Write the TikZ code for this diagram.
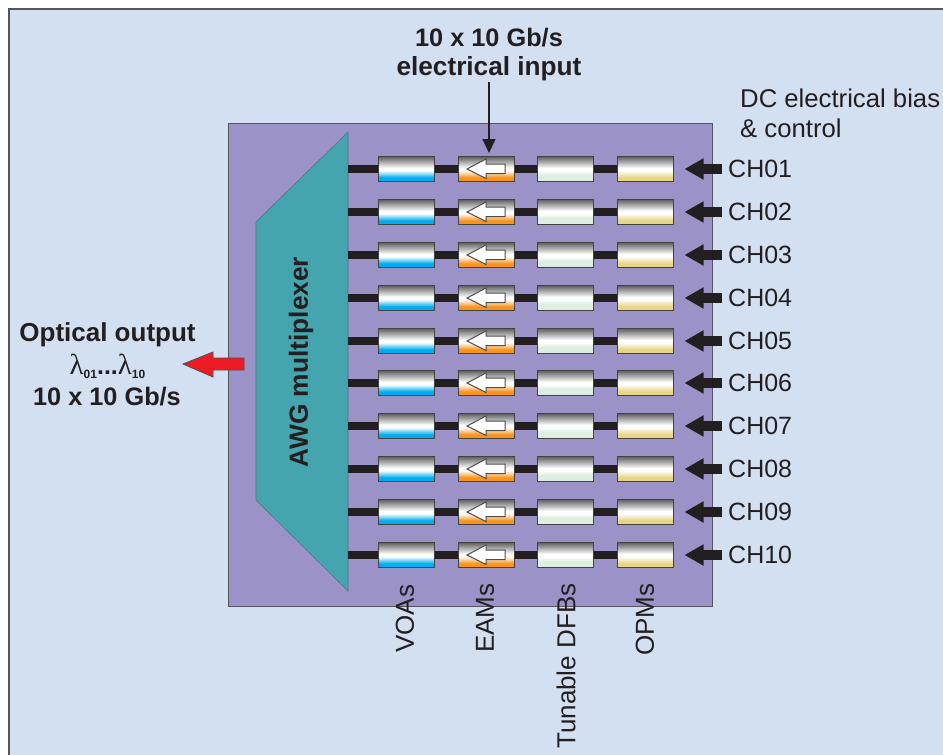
\documentclass[tikz,border=0pt]{standalone}
\usepackage{fontspec}
\setmainfont{Liberation Sans}
\newfontfamily\lamfont{Liberation Serif}
\usetikzlibrary{arrows.meta}
\definecolor{bgblue}{HTML}{D3E0F2}
\definecolor{chipv}{HTML}{9B92C7}
\definecolor{tealc}{HTML}{45A5AE}
\definecolor{inkc}{HTML}{231F20}
\definecolor{edgec}{HTML}{55555F}
\definecolor{grayt}{HTML}{5F5F5F}
\definecolor{voac}{HTML}{00AEEF}
\definecolor{eamc}{HTML}{F7941E}
\definecolor{dfbc}{HTML}{DDEFE0}
\definecolor{opmc}{HTML}{E6D584}
\definecolor{redc}{HTML}{ED1C24}
\newcommand{\declshade}[3]{\pgfdeclareverticalshading{#1}{100bp}{color(0bp)=(#2); color(25bp)=(#2); color(#3bp)=(#2); color(47bp)=(white); color(52bp)=(white); color(75bp)=(grayt); color(100bp)=(grayt)}}
\declshade{voashade}{voac}{33}
\declshade{eamshade}{eamc}{33}
\declshade{dfbshade}{dfbc}{38}
\declshade{opmshade}{opmc}{33}
\tikzset{
  x=1pt,y=-1pt,
  modbox/.style={draw=inkc!85!white,line width=1pt,minimum width=56pt,minimum height=25pt,inner sep=0pt},
  voabox/.style={modbox,shading=voashade},
  eambox/.style={modbox,shading=eamshade},
  dfbbox/.style={modbox,shading=dfbshade},
  opmbox/.style={modbox,shading=opmshade},
  wguide/.style={draw=inkc,line width=8pt},
  dcarrow/.style={draw=inkc,line width=10pt,-{Triangle[length=19pt,width=20pt]},shorten >=11pt},
  txt/.style={text=inkc,font=\fontsize{25}{30}\selectfont,inner sep=0pt},
  btxt/.style={text=inkc,font=\fontsize{25.3}{30}\selectfont\bfseries,inner sep=0pt},
  rtxt/.style={txt,font=\fontsize{26}{30}\selectfont,rotate=90,anchor=west},
}
\begin{document}
\begin{tikzpicture}
\useasboundingbox (0,0) rectangle (943,755);
\fill[white] (0,0) rectangle (943,755);
\fill[bgblue] (9,9) rectangle (943,755);
\draw[edgec,line width=1.6pt] (9,755) -- (9,9) -- (943,9);
\node[draw=edgec,fill=chipv,line width=1pt,minimum width=484pt,minimum height=483pt,inner sep=0pt] (chip) at (470,364.5) {};
\fill[tealc,draw=edgec!60!tealc,line width=.6pt] (348,132) -- (348,591) -- (256,500) -- (256,222) -- cycle;
\node[btxt,font=\fontsize{26.3}{30}\selectfont\bfseries,rotate=90] (awg) at (301,362) {AWG multiplexer};
\foreach \i/\y/\ch in {1/169/CH01,2/212/CH02,3/255/CH03,4/298/CH04,5/341/CH05,6/383/CH06,7/426/CH07,8/469/CH08,9/512/CH09,10/555/CH10}{
  \coordinate (w\i) at (348,\y);
  \node[voabox] (voa\i) at (406,\y) {};
  \node[eambox] (eam\i) at (486,\y) {};
  \node[dfbbox] (dfb\i) at (565.5,\y) {};
  \node[opmbox] (opm\i) at (645,\y) {};
  \draw[wguide] (w\i) -- (voa\i.west);
  \draw[wguide] (voa\i.east) -- (eam\i.west);
  \draw[wguide] (eam\i.east) -- (dfb\i.west);
  \draw[wguide] (dfb\i.east) -- (opm\i.west);
  \fill[white,draw=inkc!80!white,line width=1pt] (467,\y) -- (486,\y-10) -- (486,\y-5) -- (505,\y-5) -- (505,\y+4.5) -- (486,\y+4.5) -- (486,\y+9.5) -- cycle;
  \node[txt,anchor=west] (ch\i) at (728,\y) {\ch};
  \draw[dcarrow] (722,\y) -- (opm\i.east);
}
\node[btxt,align=center] (einput) at (489,55) {10 x 10 Gb/s\\[-1pt]{\fontsize{26.2}{30}\selectfont electrical input}};
\draw[inkc,line width=1.5pt,-{Triangle[length=14pt,width=13pt]},shorten >=3pt] (einput.south) -- (einput.south |- eam1.north);
\node[txt,align=left,anchor=north west] (dcbias) at (740,89) {\fontsize{25.7}{30}\selectfont DC electrical bias\\\fontsize{25.7}{30}\selectfont \& control};
\node[btxt,font=\fontsize{26}{30}\selectfont\bfseries] (optout) at (107.5,335) {Optical output};
\node[text=inkc,inner sep=0pt] (lam) at (107.5,366) {{\lamfont\fontsize{29}{30}\selectfont λ}{\bfseries\fontsize{12}{14}\selectfont\raisebox{-4pt}{01}}{\bfseries\fontsize{25}{30}\selectfont...}{\lamfont\fontsize{29}{30}\selectfont λ}{\bfseries\fontsize{12}{14}\selectfont\raisebox{-4pt}{10}}};
\node[btxt] (rate) at (107,397) {10 x 10 Gb/s};
\fill[redc,draw=inkc!80!white,line width=.8pt] (183,364) -- (213,352) -- (213,358) -- (244,358) -- (244,370) -- (213,370) -- (213,377) -- cycle;
\node[rtxt] (lvoa) at (405,653) {VOAs};
\node[rtxt] (leam) at (485,653) {EAMs};
\node[rtxt] (ldfb) at (566,749) {Tunable DFBs};
\node[rtxt] (lopm) at (645,656) {OPMs};
\end{tikzpicture}
\end{document}
